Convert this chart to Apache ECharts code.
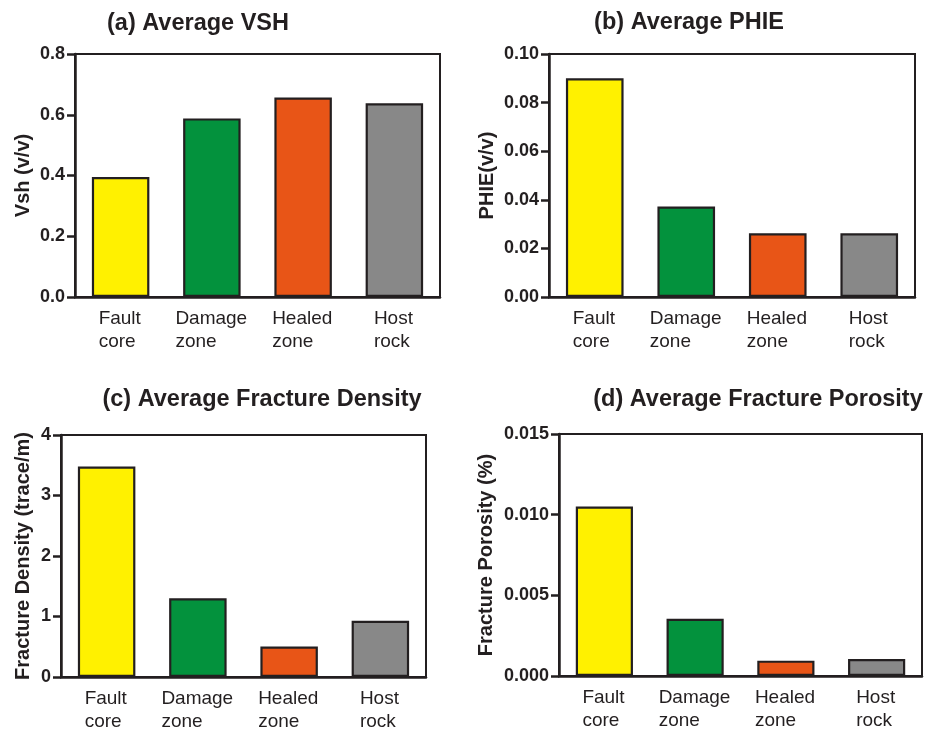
<!DOCTYPE html>
<html>
<head>
<meta charset="utf-8">
<script src="https://cdn.jsdelivr.net/npm/echarts@6/dist/echarts.min.js"></script>
<style>
  html, body { margin: 0; padding: 0; background: #fff; }
  #chart { width: 925px; height: 734px; }
</style>
</head>
<body>
<div id="chart"></div>
<script>
// data
var categories = ['Fault\ncore', 'Damage\nzone', 'Healed\nzone', 'Host\nrock'];
var vshValues = [0.395, 0.588, 0.657, 0.638];
var phieValues = [0.0900, 0.0372, 0.0262, 0.0262];
var densityValues = [3.48, 1.30, 0.505, 0.93];
var porosityValues = [0.0105, 0.00355, 0.00095, 0.00105];

var vshTicks = [0, 0.2, 0.4, 0.6, 0.8];
var phieTicks = [0, 0.02, 0.04, 0.06, 0.08, 0.10];
var densityTicks = [0, 1, 2, 3, 4];
var porosityTicks = [0, 0.005, 0.010, 0.015];

var titles = ['(a) Average VSH', '(b) Average PHIE', '(c) Average Fracture Density', '(d) Average Fracture Porosity'];
var yNames = ['Vsh (v/v)', 'PHIE(v/v)', 'Fracture Density (trace/m)', 'Fracture Porosity (%)'];

var barColors = ['#FFF100', '#03923D', '#E85517', '#888888'];
var ink = '#231F20';
var font = 'Liberation Sans, Arial, sans-serif';

(function () {
    var el = document.getElementById('chart');
    var chart = echarts.init(el, null, { renderer: 'canvas' });

    // lines of each category label are left aligned inside a centred block
    var ctx = document.createElement('canvas').getContext('2d');
    ctx.font = '19px ' + font;
    var rich = {};
    categories.forEach(function (c, i) {
        var w = Math.max.apply(null, c.split('\n').map(function (s) { return ctx.measureText(s).width; }));
        rich['c' + i] = { width: Math.ceil(w) + 1, align: 'left', fontSize: 19, lineHeight: 23, color: ink, fontFamily: font };
    });

    var panels = [
        { values: vshValues, ticks: vshTicks, digits: 1, grid: { left: 75, top: 54, width: 365, height: 243 }, gap: 42, title: [198, 12] },
        { values: phieValues, ticks: phieTicks, digits: 2, grid: { left: 549, top: 54, width: 366, height: 243 }, gap: 52, title: [689, 11] },
        { values: densityValues, ticks: densityTicks, digits: 0, grid: { left: 61, top: 435, width: 365, height: 242 }, gap: 28, title: [262, 388] },
        { values: porosityValues, ticks: porosityTicks, digits: 3, grid: { left: 559, top: 434, width: 363, height: 242 }, gap: 63, title: [758, 388] }
    ];

    var option = {
        backgroundColor: '#ffffff',
        animation: false,
        title: [], grid: [], xAxis: [], yAxis: [], series: []
    };

    panels.forEach(function (p, i) {
        option.title.push({
            text: titles[i], left: p.title[0], top: p.title[1], textAlign: 'center', padding: 0,
            textStyle: { fontFamily: font, fontSize: 23.5, fontWeight: 'bold', color: ink }
        });
        option.grid.push({
            left: p.grid.left, top: p.grid.top, width: p.grid.width, height: p.grid.height,
            show: true, borderColor: ink, borderWidth: 2, backgroundColor: 'transparent'
        });
        option.xAxis.push({
            type: 'category', gridIndex: i, data: categories,
            axisLine: { lineStyle: { color: ink, width: 2.5 } },
            axisTick: { alignWithLabel: true, length: 8, lineStyle: { color: ink, width: 2.5 } },
            axisLabel: {
                margin: 10, interval: 0, color: ink,
                formatter: function (v, idx) {
                    return v.split('\n').map(function (s) { return '{c' + idx + '|' + s + '}'; }).join('\n');
                },
                rich: rich
            },
            splitLine: { show: false }
        });
        var t = p.ticks;
        option.yAxis.push({
            type: 'value', gridIndex: i,
            min: t[0], max: t[t.length - 1], interval: t[1] - t[0],
            name: yNames[i], nameLocation: 'middle', nameGap: p.gap,
            nameTextStyle: { fontFamily: font, fontSize: 20, fontWeight: 'bold', color: ink },
            axisLine: { show: true, lineStyle: { color: ink, width: 2.5 } },
            axisTick: { show: true, length: 8, lineStyle: { color: ink, width: 2.5 } },
            axisLabel: {
                margin: 10, color: ink, fontFamily: font, fontSize: 18, fontWeight: 'bold',
                formatter: (function (d) { return function (v) { return v.toFixed(d); }; })(p.digits)
            },
            splitLine: { show: false }
        });
        option.series.push({
            type: 'bar', xAxisIndex: i, yAxisIndex: i, data: p.values,
            barWidth: '63%',
            itemStyle: {
                color: function (params) { return barColors[params.dataIndex]; },
                borderColor: ink, borderWidth: 2.2
            }
        });
    });

    chart.setOption(option);
    window.addEventListener('resize', function () { chart.resize(); });
})();
</script>
</body>
</html>
